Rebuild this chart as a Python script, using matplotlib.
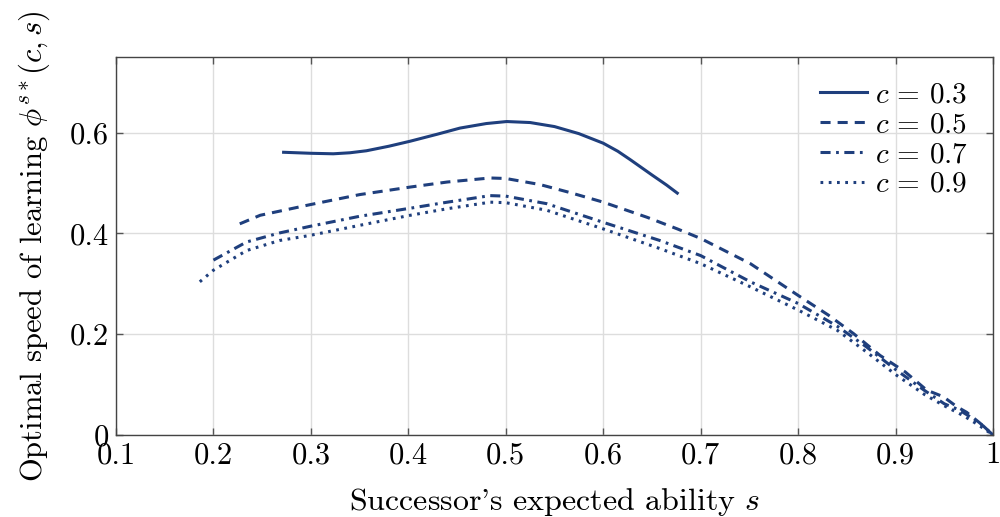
import numpy as np
import matplotlib.pyplot as plt

plt.rcParams['font.family'] = 'serif'
plt.rcParams['font.serif'] = ['cmr10', 'DejaVu Serif']
plt.rcParams['mathtext.fontset'] = 'cm'
plt.rcParams['axes.unicode_minus'] = False

# c = 0.3
s_03 = [0.272, 0.30, 0.323, 0.34, 0.357, 0.38, 0.402, 0.43, 0.453, 0.48, 0.501, 0.525,
        0.55, 0.575, 0.60, 0.615, 0.628, 0.65, 0.665, 0.676]
y_03 = [0.561, 0.559, 0.558, 0.560, 0.564, 0.573, 0.583, 0.597, 0.609, 0.618, 0.622, 0.620,
        0.612, 0.598, 0.579, 0.563, 0.546, 0.516, 0.496, 0.480]

# c = 0.5
s_05 = [0.227, 0.248, 0.299, 0.35, 0.402, 0.44, 0.484, 0.50, 0.535, 0.566, 0.60,
        0.645, 0.676, 0.70, 0.751, 0.80, 0.831, 0.857, 0.884, 0.91, 0.932, 0.949,
        0.963, 0.973, 0.987, 1.0]
y_05 = [0.419, 0.436, 0.457, 0.477, 0.492, 0.502, 0.510, 0.509, 0.497, 0.481, 0.462,
        0.432, 0.409, 0.390, 0.340, 0.277, 0.238, 0.201, 0.158, 0.125, 0.089, 0.076,
        0.056, 0.045, 0.023, 0.0]

# c = 0.7
s_07 = [0.20, 0.234, 0.268, 0.299, 0.35, 0.402, 0.44, 0.484, 0.50, 0.542, 0.60,
        0.658, 0.70, 0.751, 0.80, 0.84, 0.87, 0.90, 0.93, 0.95, 0.965, 0.975, 0.99, 1.0]
y_07 = [0.347, 0.383, 0.401, 0.414, 0.434, 0.450, 0.462, 0.475, 0.474, 0.459, 0.422,
        0.386, 0.356, 0.304, 0.261, 0.216, 0.175, 0.130, 0.088, 0.062, 0.050, 0.038, 0.018, 0.0]

# c = 0.9
s_09 = [0.186, 0.20, 0.234, 0.268, 0.299, 0.35, 0.402, 0.44, 0.484, 0.50, 0.542,
        0.60, 0.658, 0.70, 0.751, 0.80, 0.84, 0.87, 0.90, 0.93, 0.95, 0.97, 0.985, 1.0]
y_09 = [0.304, 0.327, 0.366, 0.386, 0.396, 0.416, 0.436, 0.449, 0.462, 0.461, 0.446,
        0.409, 0.370, 0.340, 0.294, 0.248, 0.208, 0.165, 0.120, 0.080, 0.058, 0.038, 0.020, 0.0]

x_ticks = [0.1, 0.2, 0.3, 0.4, 0.5, 0.6, 0.7, 0.8, 0.9, 1.0]
x_labels = ['0.1', '0.2', '0.3', '0.4', '0.5', '0.6', '0.7', '0.8', '0.9', '1']
y_ticks = [0, 0.2, 0.4, 0.6]
y_labels = ['0', '0.2', '0.4', '0.6']

color = '#1f3f7d'

fig = plt.figure(figsize=(10, 5.17), dpi=100)
ax = fig.add_axes([0.116, 0.1586, 0.877, 0.7311])

ax.plot(s_03, y_03, color=color, lw=2.2, ls='-', label=r'$c\,=\,0.3$')
ax.plot(s_05, y_05, color=color, lw=2.2, ls=(0, (3.3, 2.3)), label=r'$c\,=\,0.5$')
ax.plot(s_07, y_07, color=color, lw=2.2, ls=(0, (3.3, 1.8, 0.9, 1.8)), label=r'$c\,=\,0.7$')
ax.plot(s_09, y_09, color=color, lw=2.2, ls=(0, (0.9, 1.8)), label=r'$c\,=\,0.9$')

ax.set_xlim(0.1, 1.0)
ax.set_ylim(0, 0.75)
ax.set_xticks(x_ticks)
ax.set_xticklabels(x_labels)
ax.set_yticks(y_ticks)
ax.set_yticklabels(y_labels)
ax.grid(True, color='#dddddd', lw=1.0)
ax.set_axisbelow(True)
ax.tick_params(direction='in', length=5, width=1, color='#555555', labelsize=22,
               top=True, right=True, pad=5)
for sp in ax.spines.values():
    sp.set_color('#444444')
    sp.set_linewidth(1.0)

ax.set_xlabel(r"Successor's expected ability $s$", fontsize=23, labelpad=12)
ax.set_ylabel(r"Optimal speed of learning $\phi^{s*}(c,s)$", fontsize=22, labelpad=13)

ax.legend(loc='upper right', frameon=False, fontsize=21, handlelength=1.6,
          handletextpad=0.3, labelspacing=0.12, borderaxespad=0.45)

fig.savefig('out.png', dpi=100)
